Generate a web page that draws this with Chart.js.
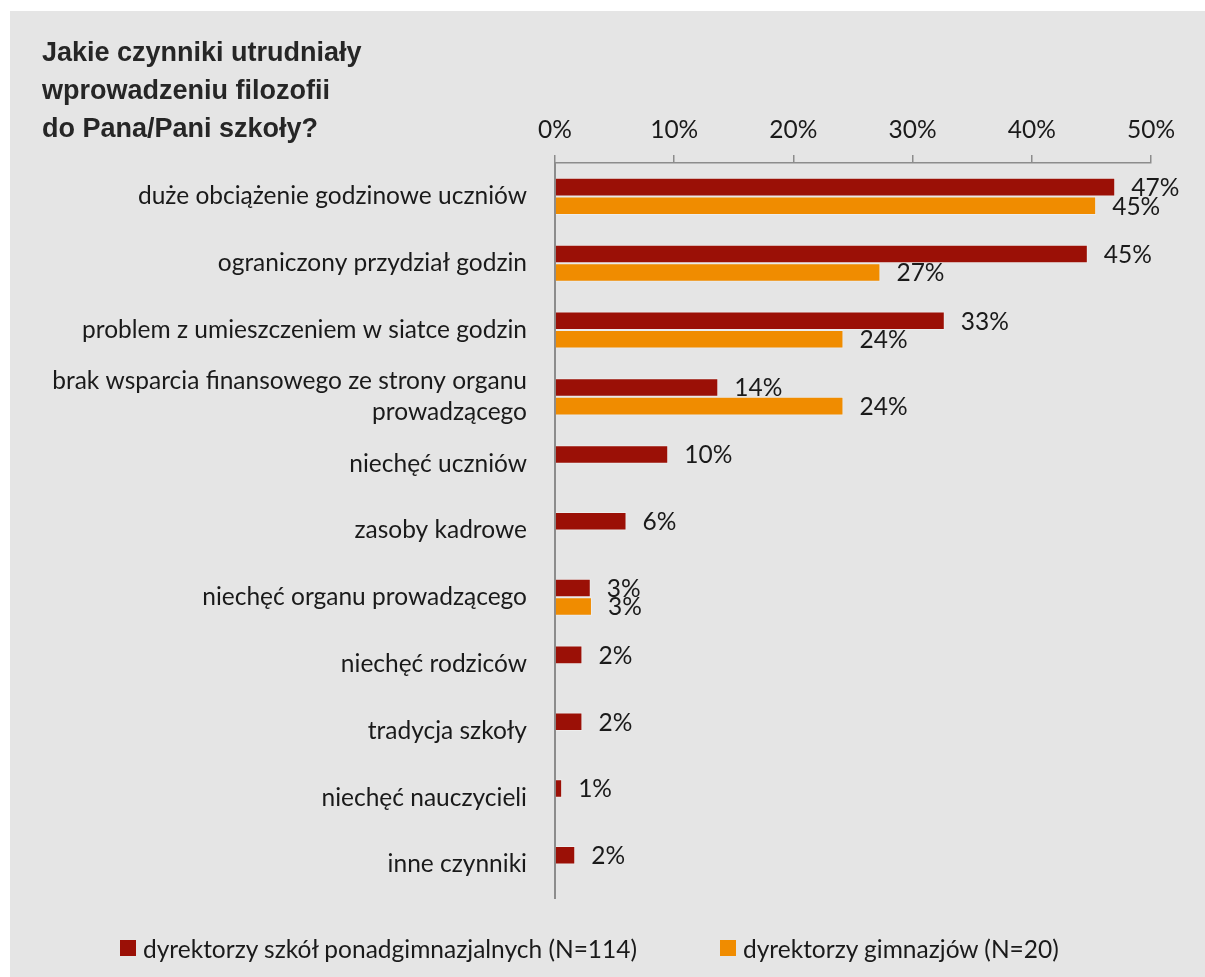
<!DOCTYPE html>
<html lang="pl">
<head>
<meta charset="utf-8">
<title>Jakie czynniki utrudniały wprowadzeniu filozofii</title>
<script src="https://cdn.jsdelivr.net/npm/chart.js@4/dist/chart.umd.min.js"></script>
<style>
  html, body { margin: 0; padding: 0; background: #fff; }
  #panel {
    position: absolute; left: 10px; top: 11px;
    width: 1195px; height: 966px;
    background: #e5e5e5;
  }
  #chartBox { position: absolute; left: 0; top: 0; width: 1195px; height: 966px; }
  #title {
    position: absolute; left: 32px; top: 22px;
    font: bold 27px "Liberation Sans", Arial, sans-serif;
    line-height: 38px; color: #262626;
  }
  .legend-item {
    position: absolute; top: 923px; height: 28px;
    display: flex; align-items: center;
    font: 24.5px Lato, "Open Sans", sans-serif; color: #1a1a1a;
    white-space: nowrap;
  }
  .legend-item .swatch {
    display: inline-block; width: 16px; height: 16px;
    margin-right: 7px;
  }
</style>
</head>
<body>
<div id="panel">
  <div id="chartBox"><canvas id="chart"></canvas></div>
  <div id="title">Jakie czynniki utrudniały<br>wprowadzeniu filozofii<br>do Pana/Pani szkoły?</div>
  <div class="legend-item" id="leg0" style="left:110px"></div>
  <div class="legend-item" id="leg1" style="left:710px"></div>
</div>
<script>
/* categories (top to bottom) */
const CATEGORIES = [
  "duże obciążenie godzinowe uczniów",
  "ograniczony przydział godzin",
  "problem z umieszczeniem w siatce godzin",
  ["brak wsparcia finansowego ze strony organu", "prowadzącego"],
  "niechęć uczniów",
  "zasoby kadrowe",
  "niechęć organu prowadzącego",
  "niechęć rodziców",
  "tradycja szkoły",
  "niechęć nauczycieli",
  "inne czynniki",
];

/* series values in % */
const SERIES_NAMES = [
  "dyrektorzy szkół ponadgimnazjalnych (N=114)",
  "dyrektorzy gimnazjów (N=20)",
];
const PONADGIMNAZJALNE = [47, 44.7, 32.7, 13.7, 9.5, 6, 3, 2.3, 2.3, 0.6, 1.7];
const GIMNAZJA         = [45.4, 27.3, 24.2, 24.2, null, null, 3.1, null, null, null, null];

const SERIES_COLORS = ["#9b1006", "#f08c00"];

/* axis ticks */
const X_MAX = 50;
const X_STEP = 10;

const LABEL_FONT = { family: "Lato, 'Open Sans', sans-serif", size: 24.5 };
const TEXT_COLOR = "#1a1a1a";
const AXIS_COLOR = "#8c8c8c";

// legend in html, same colours as the datasets
SERIES_NAMES.forEach((name, i) => {
  const el = document.getElementById("leg" + i);
  el.innerHTML = `<span class="swatch" style="background:${SERIES_COLORS[i]}"></span>${name}`;
});

// value labels: first series drawn under the bars (like the original), second on top
function drawValueLabels(chart, datasetIndex) {
  const { ctx } = chart;
  const meta = chart.getDatasetMeta(datasetIndex);
  const values = chart.data.datasets[datasetIndex].data;
  ctx.save();
  ctx.font = `${LABEL_FONT.size}px ${LABEL_FONT.family}`;
  ctx.fillStyle = TEXT_COLOR;
  ctx.textAlign = "left";
  ctx.textBaseline = "middle";
  meta.data.forEach((bar, i) => {
    const v = values[i];
    if (v === null || v === undefined) return;
    ctx.fillText(Math.round(v) + "%", bar.x + 16, bar.y + 1);
  });
  ctx.restore();
}

const valueLabels = {
  id: "valueLabels",
  beforeDatasetsDraw(chart) { drawValueLabels(chart, 0); },
  afterDatasetsDraw(chart) { drawValueLabels(chart, 1); },
};

new Chart(document.getElementById("chart"), {
  type: "bar",
  data: {
    labels: CATEGORIES,
    datasets: [
      {
        label: SERIES_NAMES[0],
        data: PONADGIMNAZJALNE,
        backgroundColor: SERIES_COLORS[0],
        borderColor: "rgba(255,255,255,0.3)",
        borderWidth: 1,
      },
      {
        label: SERIES_NAMES[1],
        data: GIMNAZJA,
        backgroundColor: SERIES_COLORS[1],
        borderColor: "rgba(255,255,255,0.3)",
        borderWidth: 1,
      },
    ],
  },
  options: {
    indexAxis: "y",
    responsive: true,
    maintainAspectRatio: false,
    animation: false,
    categoryPercentage: 0.555,
    barPercentage: 1,
    layout: { padding: { left: 0, right: 54, top: 0, bottom: 79 } },
    plugins: {
      legend: { display: false },
      tooltip: { enabled: false },
    },
    scales: {
      x: {
        position: "top",
        min: 0,
        max: X_MAX,
        afterFit: (scale) => { scale.height = 152; },
        ticks: {
          stepSize: X_STEP,
          padding: 10,
          color: TEXT_COLOR,
          font: LABEL_FONT,
          callback: (v) => v + "%",
        },
        grid: {
          drawOnChartArea: false,
          drawTicks: true,
          tickLength: 8,
          color: AXIS_COLOR,
          lineWidth: 1.5,
        },
        border: { display: true, color: AXIS_COLOR, width: 1.5 },
      },
      y: {
        afterFit: (scale) => { scale.width = 545; },
        ticks: {
          padding: 20,
          color: TEXT_COLOR,
          font: { ...LABEL_FONT, lineHeight: 1.27 },
          autoSkip: false,
        },
        grid: { display: false },
        border: { display: true, color: AXIS_COLOR, width: 2 },
      },
    },
  },
  plugins: [valueLabels],
});
</script>
</body>
</html>
